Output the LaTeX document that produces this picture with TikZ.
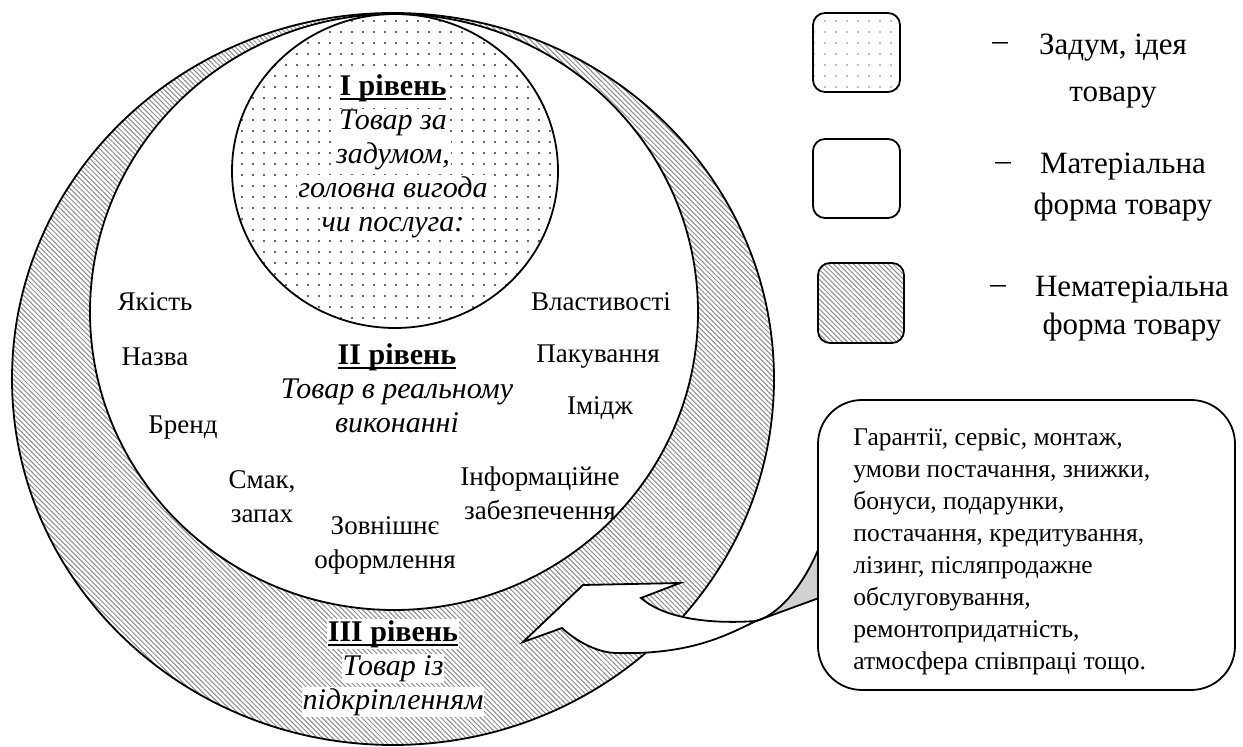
\documentclass[tikz,border=0pt]{standalone}
\usepackage{fontspec}
\setmainfont{Liberation Serif}
\usetikzlibrary{patterns.meta,shapes.geometric}
\definecolor{backface}{gray}{0.82}
\definecolor{hatchgray}{gray}{0.55}
\definecolor{dotgray}{gray}{0.2}
\setlength{\fboxsep}{0.5pt}
\newsavebox\lvlbox
\newcommand{\wb}[1]{\colorbox{white}{#1}}
% bold level title with a heavy underline
\newcommand{\lvl}[1]{\sbox\lvlbox{\textbf{#1}}\rlap{\rule[-2.4pt]{\wd\lvlbox}{1pt}}\usebox\lvlbox}
\tikzset{
  outline/.style={draw=black, line width=0.9pt},
  ringhatch/.style={pattern={Lines[angle=-45, distance=1.75pt, line width=0.5pt]}, pattern color=hatchgray},
  conceptdots/.style={pattern={Dots[distance=5.5pt, radius=0.6pt]}, pattern color=dotgray},
  keydots/.style={pattern={Dots[distance=5.5pt, radius=0.4pt]}, pattern color=gray},
  lbl/.style={font=\fontsize{13.5pt}{17pt}\selectfont, align=center, inner sep=0pt},
  lvltext/.style={font=\fontsize{15pt}{17pt}\selectfont, align=center, inner sep=0pt},
  keytext/.style={align=center, inner sep=0pt},
  keybox/.style={outline, rounded corners=6pt, minimum width=43.5pt, minimum height=39.5pt, inner sep=0pt},
  oval/.style={ellipse, outline, inner sep=0pt},
}
\begin{document}
\begin{tikzpicture}[x=0.5pt, y=-0.5pt]
\fill[white] (0,0) rectangle (1243,747);
\useasboundingbox (0,0) rectangle (1243,747);

% three nested levels of the product
\node[oval, ringhatch, minimum width=381pt, minimum height=366pt] (outer) at (393,379) {};
\node[oval, fill=white, minimum width=304pt, minimum height=298pt] (inner) at (394,312) {};
\node[oval, conceptdots, minimum width=163pt, minimum height=157pt] (core) at (395,171) {};

\node[lvltext] (coretext) at (393,156) {\wb{\lvl{I рівень}}\\ \wb{\textit{Товар за}}\\ \wb{\textit{задумом,}}\\ \wb{\textit{головна вигода}}\\ \wb{\textit{чи послуга:}}};
\node[lvltext] (realtext) at (397,388) {\lvl{II рівень}\\ \textit{Товар в реальному}\\ \textit{виконанні}};
\node[lvltext] (augtext) at (393,668) {\wb{\lvl{III рівень}}\\ \wb{\textit{Товар із}}\\ \wb{\textit{підкріпленням}}};

% features of the actual product
\node[lbl] (quality) at (155,302) {Якість};
\node[lbl] (name) at (155,357) {Назва};
\node[lbl] (brand) at (183,428) {Бренд};
\node[lbl] (taste) at (262,497) {Смак,\\запах};
\node[lbl] (design) at (385,545) {Зовнішнє\\оформлення};
\node[lbl] (info) at (540,493) {Інформаційне\\забезпечення};
\node[lbl] (image) at (600,408) {Імідж};
\node[lbl] (pack) at (598,357) {Пакування};
\node[lbl] (props) at (601,302) {Властивості};

% curved arrow from the services callout into the outer ring
\fill[backface] (756,621) .. controls (776,616) and (801,590) .. (818,550) -- (830,520) -- (830,594) -- cycle;
\draw[outline] (756,621) .. controls (776,616) and (801,590) .. (818,550) -- (826,530);
\draw[outline] (756,621) -- (830,594);
\path[outline, fill=white, line join=miter] (523,642) -- (583,585) -- (680,583) -- (641,598)
  .. controls (660,615) and (700,625) .. (756,621)
  .. controls (725,636) and (690,655) .. (615,653)
  .. controls (595,652) and (575,640) .. (562,628) -- cycle;

% services callout
\node[outline, fill=white, rounded corners=22pt, minimum width=208.5pt, minimum height=145pt] (callout) at (1026.5,545) {};
\node[anchor=west, align=left, inner sep=0pt, font=\fontsize{12.75pt}{16pt}\selectfont] (services) at (853,552)
  {Гарантії, сервіс, монтаж,\\ умови постачання, знижки,\\ бонуси, подарунки,\\ постачання, кредитування,\\ лізинг, післяпродажне\\ обслуговування,\\ ремонтопридатність,\\ атмосфера співпраці тощо.};

% legend
\node[keybox, keydots] (keyidea) at (856.5,52.5) {};
\node[keybox, fill=white] (keymat) at (856.5,178.5) {};
\node[keybox, ringhatch, minimum width=43pt, minimum height=40pt] (keyimm) at (861,303) {};
\node[keytext, font=\fontsize{15.5pt}{19pt}\selectfont] (dash1) at (1000,47) {--};
\node[keytext, font=\fontsize{15.5pt}{19pt}\selectfont] (dash2) at (1003,167) {--};
\node[keytext, font=\fontsize{15.5pt}{19pt}\selectfont] (dash3) at (998,290) {--};
\node[keytext, font=\fontsize{15.5pt}{23.5pt}\selectfont] (idea) at (1113,71.5) {Задум, ідея\\товару};
\node[keytext, font=\fontsize{15.5pt}{20.5pt}\selectfont] (mat) at (1123,187.5) {Матеріальна\\форма товару};
\node[keytext, font=\fontsize{15.5pt}{19pt}\selectfont] (imm) at (1132,309) {Нематеріальна\\форма товару};
\end{tikzpicture}
\end{document}
